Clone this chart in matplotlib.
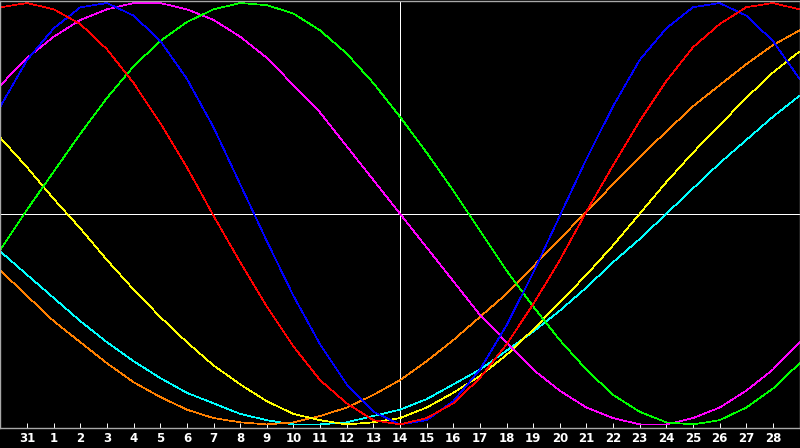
import matplotlib
matplotlib.use("Agg")
import matplotlib.pyplot as plt

# days shown along the bottom (index 0..30 on the x axis)
day_labels = ["31"] + [str(d) for d in range(1, 29)]

# cycle values in percent, one per day (x = 0..30)
red = [98, 100, 97, 90, 78, 62, 43, 22, -1, -23, -44, -63, -79, -90, -98, -100,
       -97, -90, -78, -62, -43, -22, 1, 23, 44, 63, 79, 90, 98, 100, 97]
blue = [51, 73, 88, 98, 100, 94, 82, 64, 41, 14, -13, -39, -62, -81, -94, -100,
        -98, -89, -74, -53, -28, -1, 26, 51, 73, 88, 98, 100, 94, 82, 64]
green = [-17, 2, 20, 38, 55, 70, 82, 91, 97, 100, 99, 95, 87, 76, 62, 46,
         29, 11, -8, -27, -44, -60, -74, -86, -94, -99, -100, -98, -92, -83, -71]
magenta = [61, 74, 84, 92, 97, 100, 100, 97, 92, 84, 74, 61, 48, 32, 16, 0,
           -16, -32, -48, -61, -74, -84, -92, -97, -100, -100, -97, -92, -84, -74, -61]
yellow = [36, 22, 7, -7, -22, -36, -49, -61, -72, -81, -89, -95, -98, -100, -99, -97,
          -92, -85, -77, -67, -55, -42, -29, -15, 0, 15, 29, 42, 55, 67, 77]
orange = [-27, -39, -51, -61, -71, -80, -87, -93, -97, -99, -100, -99, -96, -92, -86, -79,
          -70, -60, -49, -38, -25, -12, 1, 14, 27, 39, 51, 61, 71, 80, 87]
cyan = [-18, -29, -40, -51, -61, -70, -78, -85, -90, -95, -98, -100, -100, -99, -96, -93,
        -88, -81, -74, -65, -56, -46, -35, -23, -12, 0, 12, 24, 35, 46, 56]

series = [
    (cyan, "#00ffff"),
    (orange, "#ff8000"),
    (yellow, "#ffff00"),
    (magenta, "#ff00ff"),
    (green, "#00ff00"),
    (blue, "#0000ff"),
    (red, "#ff0000"),
]

fig = plt.figure(figsize=(8, 4.48), dpi=100, facecolor="black")
ax = fig.add_axes([0.0006, 20 / 448, 0.9988, 427.5 / 448])
ax.set_facecolor("black")

days = list(range(len(red)))

# crosshair
ax.axvline(15, color="white", lw=0.6, zorder=1, antialiased=False)
ax.axhline(0, color="white", lw=0.6, zorder=1, antialiased=False)

for vals, col in series:
    ax.plot(days, vals, color=col, lw=0.5, antialiased=False, zorder=2)

ax.set_xlim(0, 30)
ax.set_ylim(-101.7, 101.2)

ax.set_xticks(range(1, 30))
ax.set_xticklabels(day_labels)
ax.set_yticks([])
ax.tick_params(axis="x", direction="in", length=3.6, width=0.7, color="white",
               labelcolor="white", labelsize=8.5, pad=3)
for lbl in ax.get_xticklabels():
    lbl.set_fontweight("bold")

for sp in ax.spines.values():
    sp.set_color("#a8a8a8")
    sp.set_linewidth(1.0)

fig.savefig("out.png", dpi=100, facecolor="black")
